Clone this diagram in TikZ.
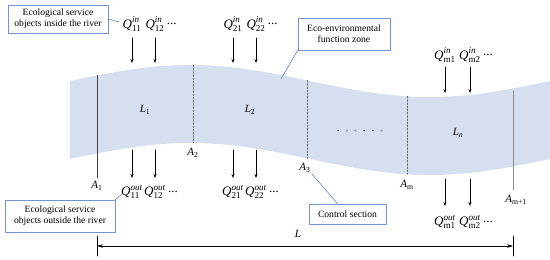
\documentclass[tikz,border=0pt]{standalone}
\usepackage{amsmath}
\usepackage{fontspec}
\setmainfont{Liberation Serif}
\usetikzlibrary{arrows.meta,positioning}
\definecolor{bandblue}{RGB}{214,223,240}
\definecolor{boxblue}{RGB}{114,148,214}
\definecolor{lineblue}{RGB}{68,114,196}
\newcommand{\qin}[1]{$\textit{Q}^{\textit{in}}_{\textrm{#1}}$}
\newcommand{\qout}[1]{$\textit{Q}^{\textit{out}}_{\textrm{#1}}$}
\newcommand{\secA}[1]{$\textit{A}_{\textrm{#1}}$}

\begin{document}
\begin{tikzpicture}[x=1pt,y=-1pt,line cap=round,line join=round,>=Stealth,
  declare function={rtop(\x)=81-16*cos(0.75*(\x-190));},
  every node/.style={inner sep=1pt,font=\fontsize{10}{11}\selectfont},
  qlab/.style={font=\fontsize{13}{14}\selectfont},
  seclab/.style={font=\fontsize{11}{12}\selectfont},
  infobox/.style={draw=boxblue,line width=0.8pt,fill=white,align=center,inner xsep=2pt,inner ysep=2pt,
    font=\fontsize{9.6}{11}\selectfont},
  callout/.style={draw=lineblue,line width=0.5pt},
  flow/.style={-{Stealth[length=4pt,width=3pt]},line width=0.7pt}]
  \useasboundingbox (0,0) rectangle (550,260);
  \fill[bandblue] plot[domain=70:550,samples=80] (\x,{rtop(\x)}) -- plot[domain=550:70,samples=80] (\x,{rtop(\x)+78}) -- cycle;
  \draw[line width=0.6pt,black!75] (97,{rtop(97)}) -- (97,178);
  \foreach \xs in {193,307,407} {
    \draw[dash pattern=on 2pt off 1.2pt,black!55,line width=0.6pt] (\xs,{rtop(\xs)}) -- (\xs,{rtop(\xs)+78});
  }
  \draw[black!45,line width=0.9pt] (513,91) -- (513,190);
  \node[seclab] (a1) at (97,186) {\secA{1}};
  \node[seclab] (a2) at (193,153) {\secA{2}};
  \node[seclab] (a3) at (305,168) {\secA{3}};
  \node[seclab] (am) at (407,185) {\secA{m}};
  \node[seclab] (amm) at (516,200) {\secA{m+1}};
  \node[seclab] (l1) at (145,110) {$\textit{L}_{\textrm{1}}$};
  \node[seclab] (l2) at (250,110) {$\textit{L}_{\textrm{2}}$};
  \node[seclab] (ln) at (458,133) {$\textit{L}_{\textit{n}}$};
  \node[seclab] (gap) at (360,131) {.\hspace{6pt}.\hspace{6pt}.\hspace{6pt}.\hspace{6pt}.\hspace{6pt}.};
  \node[qlab] (q11i) at (132,24) {\qin{11}};
  \node[qlab] (q12i) at (155,24) {\qin{12}};
  \node[qlab,right=0pt of q12i] (d1i) {...};
  \node[qlab] (q21i) at (233,24) {\qin{21}};
  \node[qlab] (q22i) at (256,24) {\qin{22}};
  \node[qlab,right=0pt of q22i] (d2i) {...};
  \node[qlab] (qm1i) at (445,55) {\qin{m1}};
  \node[qlab] (qm2i) at (470,55) {\qin{m2}};
  \node[qlab,right=0pt of qm2i] (dmi) {...};
  \node[qlab] (q11o) at (132,192) {\qout{11}};
  \node[qlab] (q12o) at (155,192) {\qout{12}};
  \node[qlab,right=0pt of q12o] (d1o) {...};
  \node[qlab] (q21o) at (233,192) {\qout{21}};
  \node[qlab] (q22o) at (256,192) {\qout{22}};
  \node[qlab,right=0pt of q22o] (d2o) {...};
  \node[qlab] (qm1o) at (445,222) {\qout{m1}};
  \node[qlab] (qm2o) at (470,222) {\qout{m2}};
  \node[qlab,right=0pt of qm2o] (dmo) {...};
  \foreach \n in {q11i,q12i,q21i,q22i} {
    \draw[flow] (\n |- 0,38) -- (\n |- 0,63);
  }
  \foreach \n in {qm1i,qm2i} {
    \draw[flow] (\n |- 0,67) -- (\n |- 0,93);
  }
  \foreach \n in {q11o,q12o,q21o,q22o} {
    \draw[flow] (\n |- 0,150) -- (\n |- 0,178);
  }
  \foreach \n in {qm1o,qm2o} {
    \draw[flow] (\n |- 0,179) -- (\n |- 0,206);
  }
  \node[infobox,minimum width=100pt,minimum height=28pt] (inbox) at (58,19) {Ecological service\\objects inside the river};
  \node[infobox,minimum width=110pt,minimum height=32pt] (outbox) at (60,216) {Ecological service\\objects outside the river};
  \node[infobox,minimum width=92pt,minimum height=32pt] (ecobox) at (344,34) {Eco-environmental\\function zone};
  \node[infobox,minimum width=77pt,minimum height=20pt] (ctrlbox) at (347.5,214) {Control section};
  \coordinate (inend) at (119,22);
  \coordinate (ecoend) at (281,79);
  \coordinate (outend) at (122,194);
  \draw[callout] (inbox.east) -- (inend);
  \draw[callout] (ecobox.south west) -- (ecoend);
  \draw[callout] ([xshift=-10pt]ctrlbox.north) -- (a3.south east);
  \draw[callout] (outbox.north east) -- (outend);
  \coordinate (lft) at (97,246);
  \coordinate (rgt) at (513,246);
  \draw[line width=0.6pt] (97,236) -- (97,256);
  \draw[line width=0.6pt] (513,236) -- (513,256);
  \draw[{Stealth[length=6pt,width=3.5pt]}-{Stealth[length=6pt,width=3.5pt]},line width=0.6pt] (lft) -- (rgt);
  \node[seclab] (len) at (298,234) {$\textit{L}$};
\end{tikzpicture}
\end{document}
